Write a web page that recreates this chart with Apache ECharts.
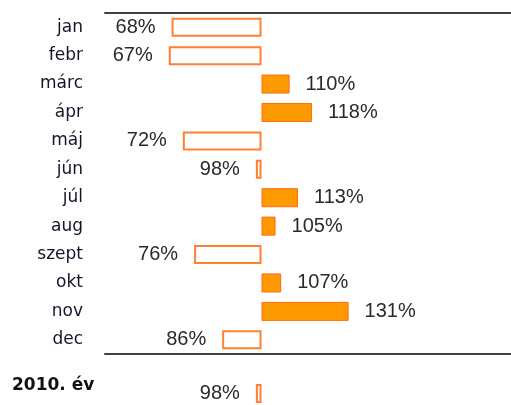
<!DOCTYPE html>
<html>
<head>
<meta charset="utf-8">
<script src="https://cdn.jsdelivr.net/npm/echarts@6/dist/echarts.min.js"></script>
<style>
  html, body { margin: 0; padding: 0; background: #fff; }
  #chart { width: 511px; height: 405px; }
</style>
</head>
<body>
<div id="chart"></div>
<script>
// Monthly index values (%, base = 100)
const months = ['jan', 'febr', 'márc', 'ápr', 'máj', 'jún', 'júl', 'aug', 'szept', 'okt', 'nov', 'dec'];
const monthlyPct = [68, 67, 110, 118, 72, 98, 113, 105, 76, 107, 131, 86];
// Yearly total
const yearLabels = ['2010. év'];
const yearlyPct = [98];

const BASE = 100;

// Bars grow from the 100% line: above it filled orange, below it an outlined box
function barItem(v) {
  const up = v >= BASE;
  return {
    value: v - BASE,
    pct: v,
    itemStyle: up
      ? { color: '#ff9900', borderColor: '#ff6a10', borderWidth: 1 }
      : { color: '#ffffff', borderColor: '#ff8033', borderWidth: 2 },
    label: { position: up ? 'right' : 'left' }
  };
}

const AX_MIN = -55.7, AX_MAX = 88.8;
const valueFont = { fontFamily: 'Liberation Sans', fontSize: 20, color: '#2a2a2a' };

const barLabel = Object.assign({
  show: true,
  distance: 16,
  formatter: p => p.data.pct + '%'
}, valueFont);

const hiddenValueAxis = (gridIndex, position, showLine) => ({
  type: 'value',
  gridIndex,
  position,
  min: AX_MIN,
  max: AX_MAX,
  axisLine: { show: showLine, onZero: false, lineStyle: { color: '#404040', width: 2 } },
  axisTick: { show: false },
  axisLabel: { show: false },
  splitLine: { show: false }
});

const chart = echarts.init(document.getElementById('chart'), null, { renderer: 'canvas' });
chart.setOption({
  animation: false,
  backgroundColor: '#ffffff',
  grid: [
    { left: 105, right: 0, top: 13, height: 341 },
    { left: 105, right: 0, top: 382, height: 28 }
  ],
  xAxis: [
    hiddenValueAxis(0, 'top', true),
    hiddenValueAxis(0, 'bottom', true),
    hiddenValueAxis(1, 'bottom', false)
  ],
  yAxis: [
    {
      type: 'category',
      gridIndex: 0,
      data: months,
      inverse: true,
      axisLine: { show: false },
      axisTick: { show: false },
      axisLabel: {
        margin: 22,
        fontFamily: 'DejaVu Sans',
        fontSize: 17,
        color: '#15152a'
      }
    },
    {
      type: 'category',
      gridIndex: 1,
      data: yearLabels,
      axisLine: { show: false },
      axisTick: { show: false },
      axisLabel: {
        margin: 93,
        align: 'left',
        verticalAlign: 'bottom',
        lineHeight: 16,
        fontFamily: 'DejaVu Sans',
        fontWeight: 'bold',
        fontSize: 17,
        color: '#111111'
      }
    }
  ],
  series: [
    {
      type: 'bar',
      xAxisIndex: 0,
      yAxisIndex: 0,
      barWidth: 19,
      silent: true,
      label: barLabel,
      data: monthlyPct.map(barItem)
    },
    {
      type: 'bar',
      xAxisIndex: 2,
      yAxisIndex: 1,
      barWidth: 19,
      silent: true,
      label: barLabel,
      data: yearlyPct.map(barItem)
    }
  ]
});
</script>
</body>
</html>
